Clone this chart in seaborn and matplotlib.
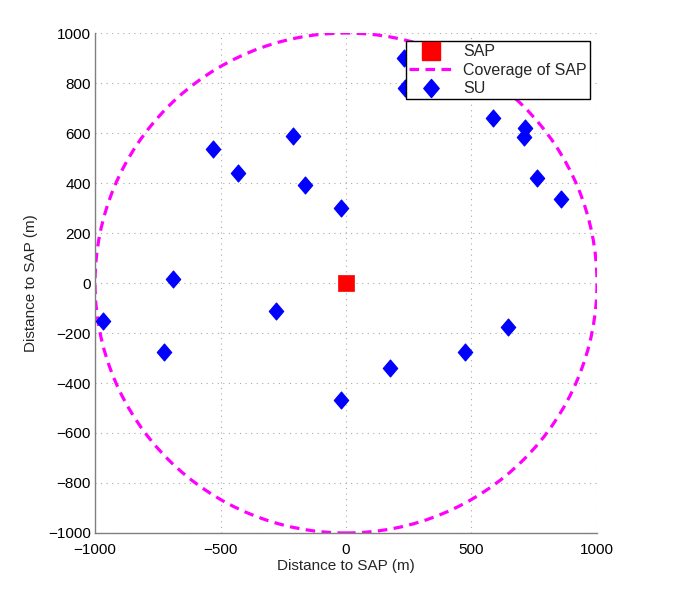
import numpy as np
import matplotlib
matplotlib.use('Agg')
import matplotlib.pyplot as plt
from matplotlib.lines import Line2D
from matplotlib.patches import Circle
from matplotlib.path import Path
import seaborn as sns
import pandas as pd

# positions in metres
su_x = [230, 235, 585, 715, 710, 760, 855, -530, -430, -210,
        -165, -20, -690, -280, -970, -725, -20, 175, 475, 645]
su_y = [900, 780, 660, 620, 585, 420, 335, 535, 440, 588,
        392, 300, 15, -110, -150, -275, -470, -340, -275, -175]
sap_x = [0]
sap_y = [0]
coverage_radius = 1000
ticks = [-1000, -800, -600, -400, -200, 0, 200, 400, 600, 800, 1000]
xticks = [-1000, -500, 0, 500, 1000]

sns.set_style('white')
plt.rcParams['font.family'] = ['Liberation Sans', 'DejaVu Sans']

df_su = pd.DataFrame({'x': su_x, 'y': su_y})
df_sap = pd.DataFrame({'x': sap_x, 'y': sap_y})

diamond = Path([(0, 1), (0.85, 0), (0, -1), (-0.85, 0), (0, 1)],
               [Path.MOVETO, Path.LINETO, Path.LINETO, Path.LINETO,
                Path.CLOSEPOLY])

fig = plt.figure(figsize=(6.85, 5.93), dpi=100)
ax = fig.add_axes([0.1387, 0.1012, 0.7328, 0.8431])

ax.add_patch(Circle((sap_x[0], sap_y[0]), coverage_radius, fill=False,
                    edgecolor='#ff00ff', lw=2.3, ls=(0, (3, 2)), zorder=2))
sns.scatterplot(data=df_sap, x='x', y='y', marker='s', s=140, color='red',
                edgecolor='red', linewidth=0.5, ax=ax, zorder=3)
sns.scatterplot(data=df_su, x='x', y='y', marker=diamond, s=150,
                color='blue', edgecolor='blue', linewidth=0.8, ax=ax,
                zorder=3)

ax.set_xlim(-1000, 1000)
ax.set_ylim(-1000, 1000)
ax.set_xticks(xticks)
ax.set_yticks(ticks)
ax.grid(True, color='#aaaaaa', ls=(0, (1, 4)), lw=0.8)
for side in ['top', 'right']:
    ax.spines[side].set_visible(False)
for side in ['left', 'bottom']:
    ax.spines[side].set_color('#808080')
    ax.spines[side].set_linewidth(1.0)
ax.tick_params(direction='in', length=4, color='#808080', labelsize=11,
               labelcolor='black')
ax.tick_params(axis='x', pad=7)
ax.tick_params(axis='y', pad=3)
ax.set_xlabel('Distance to SAP (m)', fontsize=11, labelpad=2)
ax.set_ylabel('Distance to SAP (m)', fontsize=11, labelpad=7)

handles = [
    Line2D([], [], ls='none', marker='s', ms=12.5, color='red'),
    Line2D([], [], color='#ff00ff', lw=2.3, ls=(0, (3, 2))),
    Line2D([], [], ls='none', marker=diamond, ms=13, color='blue'),
]
leg = ax.legend(handles, ['SAP', 'Coverage of SAP', 'SU'], loc='upper right',
                bbox_to_anchor=(0.986, 0.984), borderaxespad=0,
                fontsize=11.5, frameon=True, fancybox=False, framealpha=1,
                handlelength=2.8, labelspacing=0.22, borderpad=0.2,
                handletextpad=0.6)
leg.get_frame().set_edgecolor('black')
leg.get_frame().set_linewidth(1.0)
leg.set_zorder(5)

fig.savefig('out.png', dpi=100)
